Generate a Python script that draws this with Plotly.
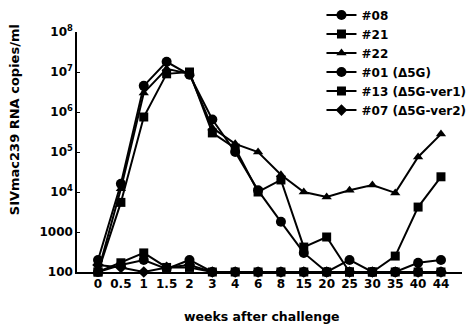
import plotly.graph_objects as go

weeks = ["0", "0.5", "1", "1.5", "2", "3", "4", "6", "8", "15", "20", "25", "30", "35", "40", "44"]

s08 = [200, 16000, 4.5e6, 1.8e7, 8.5e6, 6.5e5, 1.0e5, 1.1e4, 1800, 300, 100, 200, 100, 100, 170, 200]
s21 = [100, 5500, 7.5e5, 9.0e6, 1.0e7, 3.0e5, 1.25e5, 1.0e4, 2.0e4, 420, 750, 100, 100, 250, 4200, 24000]
s22 = [100, 12000, 3.0e6, 1.2e7, 9.0e6, 4.0e5, 1.6e5, 1.0e5, 2.7e4, 1.0e4, 7500, 1.1e4, 1.5e4, 9500, 7.5e4, 2.8e5]
s01 = [100, 150, 200, 120, 200, 100, 100, 100, 100, 100, 100, 100, 100, 100, 100, 100]
s13 = [100, 170, 300, 130, 130, 100, 100, 100, 100, 100, 100, 100, 100, 100, 100, 100]
s07 = [150, 130, 100, 130, 150, 100, 100, 100, 100, 100, 100, 100, 100, 100, 100, 100]

series = [
    ("#08", s08, "circle", 10),
    ("#21", s21, "square", 9),
    ("#22", s22, "triangle-up", 9),
    ("#01 (Δ5G)", s01, "circle", 10),
    ("#13 (Δ5G-ver1)", s13, "square", 9),
    ("#07 (Δ5G-ver2)", s07, "diamond", 9),
]

ytickvals = [100, 1000, 1e4, 1e5, 1e6, 1e7, 1e8]
yticktext = ["100", "1000", "10<sup>4</sup>", "10<sup>5</sup>", "10<sup>6</sup>", "10<sup>7</sup>", "10<sup>8</sup>"]

fig = go.Figure()
for name, vals, sym, sz in series:
    fig.add_trace(go.Scatter(
        x=weeks, y=vals, name=name, mode="lines+markers",
        line=dict(color="black", width=2),
        marker=dict(symbol=sym, size=sz, color="black"),
        cliponaxis=False,
    ))

font_family = "DejaVu Sans, sans-serif"

fig.update_layout(
    width=474, height=328,
    margin=dict(l=77, r=12, t=32, b=56, autoexpand=False),
    paper_bgcolor="white", plot_bgcolor="white",
    font=dict(family=font_family, size=12, color="black", weight="bold"),
    showlegend=True,
    legend=dict(
        x=0.635, y=1.131, xanchor="left", yanchor="top",
        bgcolor="rgba(0,0,0,0)", font=dict(size=12, weight="bold"),
        itemwidth=30, tracegroupgap=0,
    ),
    xaxis=dict(
        type="category", categoryorder="array", categoryarray=weeks,
        range=[-0.92, 15.92], showline=True, linecolor="black", linewidth=1.5,
        showgrid=False, zeroline=False, ticks="", tickfont=dict(size=12, weight="bold"),
    ),
    yaxis=dict(
        type="log", range=[2, 8], tickvals=ytickvals, ticktext=yticktext,
        showline=True, linecolor="black", linewidth=1.5, showgrid=False, zeroline=False,
        ticks="inside", ticklen=3, tickcolor="black", tickfont=dict(size=12, weight="bold"),
    ),
    annotations=[
        dict(text="SIVmac239 RNA copies/ml", textangle=-90, xref="paper", yref="paper",
             x=-0.162, y=0.635, xanchor="center", yanchor="middle", showarrow=False,
             font=dict(size=13, weight="bold")),
        dict(text="weeks after challenge", xref="paper", yref="paper",
             x=0.48, y=-0.185, xanchor="center", yanchor="middle", showarrow=False,
             font=dict(size=12.5, weight="bold")),
    ],
)

fig.write_html("out.html", config={"displayModeBar": False},
               post_script="document.body.style.margin='0px';")
